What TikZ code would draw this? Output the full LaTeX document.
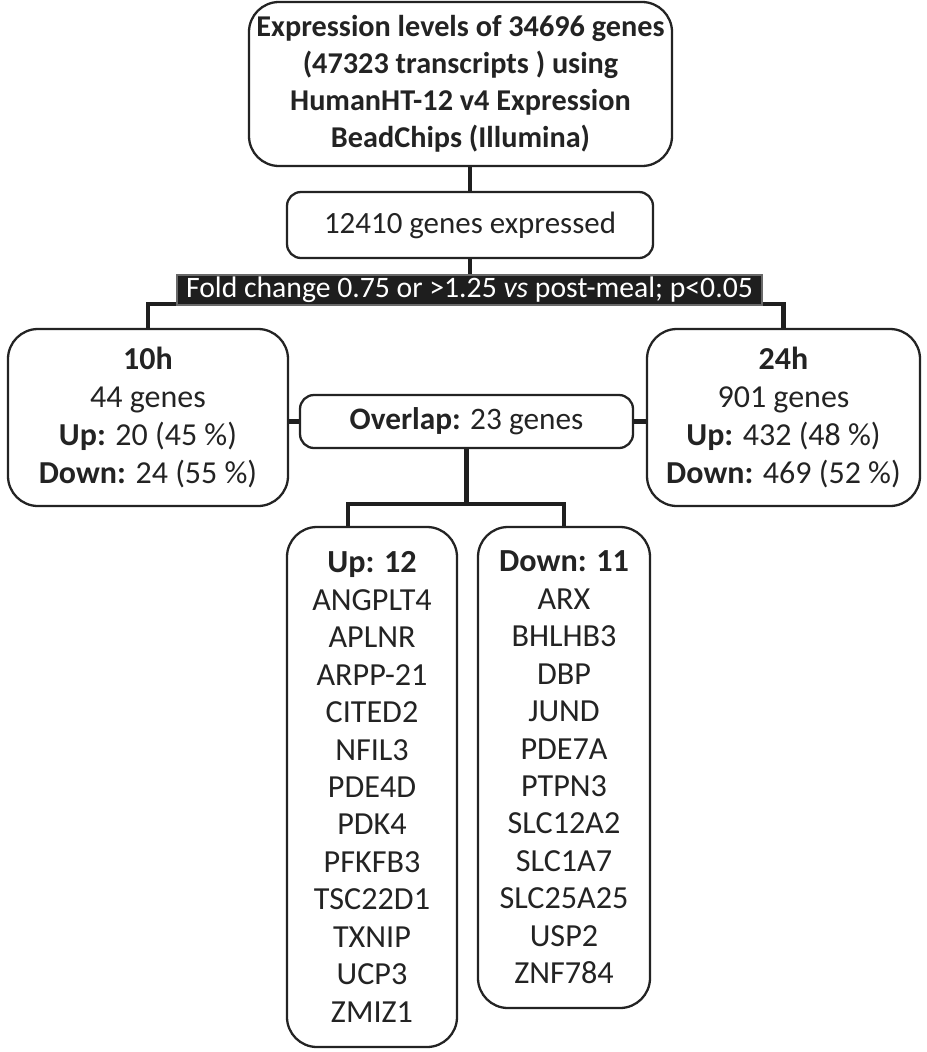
\documentclass[tikz,border=0pt]{standalone}
\usepackage{fontspec}
\setmainfont{Carlito}
\usepackage{tikz}
\usetikzlibrary{positioning, calc}
\definecolor{inkDark}{RGB}{35, 35, 35}
\definecolor{barFill}{RGB}{30, 30, 30}
\definecolor{barEdge}{RGB}{105, 105, 105}

\begin{document}
\begin{tikzpicture}[
    font=\fontsize{17.6}{21.2}\selectfont\color{inkDark},
    box/.style={rectangle, rounded corners=0.6cm, draw=inkDark, line width=1.3pt, align=center, inner sep=0pt},
    tagbox/.style={rectangle, rounded corners=0.28cm, draw=inkDark, line width=1.3pt, align=center, inner sep=0pt},
    filterbar/.style={rectangle, fill=barFill, draw=barEdge, line width=1pt, inner sep=0pt, font=\fontsize{16.9}{20}\selectfont\color{white}},
    link/.style={line width=2.6pt, black!88}
]
\useasboundingbox (0,0) rectangle (18.52,-21.04);

\node[box, minimum width=8.46cm, minimum height=3.28cm, font=\fontsize{17.2}{21.1}\selectfont\bfseries\color{inkDark}] (src) at (9.21,-1.68)
    {Expression levels of 34696 genes\\(47323 transcripts ) using\\HumanHT-12 v4 Expression\\BeadChips (Illumina)};
\node[tagbox, minimum width=7.32cm, minimum height=1.32cm] (expr) at (9.40,-4.50) {12410 genes expressed};
\node[filterbar, minimum width=11.70cm, minimum height=0.60cm] (fold) at (9.39,-5.80)
    {Fold change 0.75 or >1.25 \textit{vs} post-meal; p<0.05};

\node[box, minimum width=5.60cm, minimum height=3.54cm, font=\fontsize{18.2}{21.6}\selectfont\color{inkDark}] (h10) at (2.96,-8.35)
    {\textbf{10h}\\44 genes\\\textbf{Up:} 20 (45 \%)\\\textbf{Down:} 24 (55 \%)};
\node[box, minimum width=5.46cm, minimum height=3.54cm, font=\fontsize{18.2}{21.6}\selectfont\color{inkDark}] (h24) at (15.67,-8.35)
    {\textbf{24h}\\901 genes\\\textbf{Up:} 432 (48 \%)\\\textbf{Down:} 469 (52 \%)};
\node[tagbox, minimum width=6.66cm, minimum height=1.06cm, font=\fontsize{17.8}{21}\selectfont\color{inkDark}] (ovl) at (9.33,-8.43) {\textbf{Overlap:} 23 genes};

\node[box, minimum width=3.40cm, minimum height=10.40cm, font=\fontsize{18.3}{21.3}\selectfont\color{inkDark}] (upg) at (7.44,-15.74)
    {\textbf{Up: 12}\\ANGPLT4\\APLNR\\ARPP-21\\CITED2\\NFIL3\\PDE4D\\PDK4\\PFKFB3\\TSC22D1\\TXNIP\\UCP3\\ZMIZ1};
\node[box, minimum width=3.44cm, minimum height=9.62cm, font=\fontsize{18.3}{21.3}\selectfont\color{inkDark}] (dng) at (11.28,-15.35)
    {\textbf{Down: 11}\\ARX\\BHLHB3\\DBP\\JUND\\PDE7A\\PTPN3\\SLC12A2\\SLC1A7\\SLC25A25\\USP2\\ZNF784};

% tree lines
\draw[link] (expr.north) -- (expr.north |- src.south);
\draw[link] (expr.south) -- (expr.south |- fold.north);
\coordinate (bus) at ($(fold.south)+(0,0.04)$);
\draw[link] (h10.north) |- (bus) -| (h24.north);
\node[filterbar, minimum width=11.70cm, minimum height=0.60cm] at (fold) {Fold change 0.75 or >1.25 \textit{vs} post-meal; p<0.05};
\draw[link] (h10.east |- ovl.west) -- (ovl.west);
\draw[link] (ovl.east) -- (ovl.east -| h24.west);
\draw[link] (ovl.south) -- ++(0,-1.1) coordinate (fork);
\draw[link] ([xshift=-0.48cm]upg.north) |- (fork) -| (dng.north);
\end{tikzpicture}
\end{document}
